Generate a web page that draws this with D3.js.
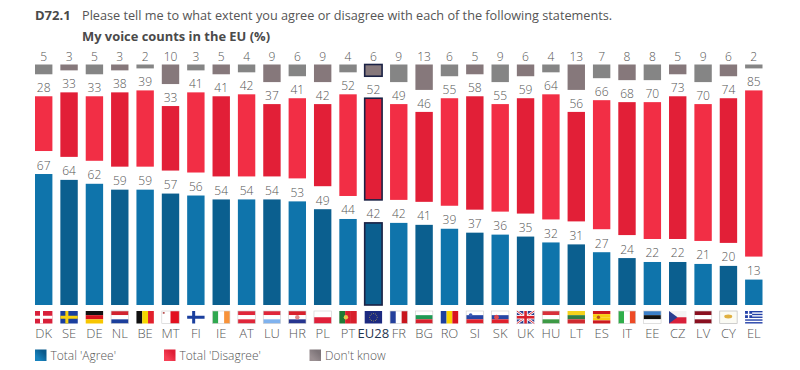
<!DOCTYPE html>
<html>
<head>
<meta charset="utf-8">
<script src="https://cdn.jsdelivr.net/npm/d3@7"></script>
<style>
  html, body { margin: 0; padding: 0; background: #fff; }
  svg { display: block; font-family: "Open Sans", "Noto Sans", sans-serif; }
  .val { font-size: 12px; font-weight: 300; fill: #555; text-anchor: middle; }
  .x-axis text { font-size: 13px; font-weight: 300; }
  .legend-label { font-size: 12px; font-weight: 300; fill: #555; }
</style>
</head>
<body>
<svg id="chart" width="800" height="370"></svg>
<script>
const countries = ['DK','SE','DE','NL','BE','MT','FI','IE','AT','LU','HR','PL','PT','EU28','FR','BG','RO','SI','SK','UK','HU','LT','ES','IT','EE','CZ','LV','CY','EL'];
const agree    = [67,64,62,59,59,57,56,54,54,54,53,49,44,42,42,41,39,37,36,35,32,31,27,24,22,22,21,20,13];
const disagree = [28,33,33,38,39,33,41,41,42,37,41,42,52,52,49,46,55,58,55,59,64,56,66,68,70,73,70,74,85];
const dontKnow = [5,3,5,3,2,10,3,5,4,9,6,9,4,6,9,13,6,5,9,6,4,13,7,8,8,5,9,6,2];

const legendItems = ["Total 'Agree'", "Total 'Disagree'", "Don't know"];

// h = horizontal stripes, v = vertical stripes
const stripeFlags = {
  DE: ['h', ['#111', '#d8121c', '#f7c600']],
  NL: ['h', ['#d2232f', '#fff', '#1c3f9c']],
  BE: ['v', ['#111', '#f6d800', '#e2202c']],
  MT: ['v', ['#fff', '#e2101f']],
  IE: ['v', ['#2fa84f', '#fff', '#f7923a']],
  AT: ['h', ['#e0263a', '#fff', '#e0263a']],
  LU: ['h', ['#e0263a', '#fff', '#7fb2ee']],
  HR: ['h', ['#d8202c', '#fff', '#26358f']],
  PL: ['h', ['#fff', '#e0203a']],
  PT: ['v', ['#1f7a35', '#d8202c', '#d8202c']],
  FR: ['v', ['#24409c', '#fff', '#c8161e']],
  BG: ['h', ['#fff', '#1f9a55', '#d8202c']],
  RO: ['v', ['#1d3f9e', '#fad400', '#d8141f']],
  SI: ['h', ['#fff', '#2545a5', '#e0202c']],
  SK: ['h', ['#fff', '#2545a5', '#e0202c']],
  HU: ['h', ['#d8303a', '#fff', '#3d9a45']],
  LT: ['h', ['#f5d21c', '#2f7d45', '#cf2a2f']],
  ES: ['h', ['#cc1a20', '#f9cf10', '#f9cf10', '#cc1a20']],
  IT: ['v', ['#2fae4a', '#fff', '#ee4a25']],
  EE: ['h', ['#3a7fc8', '#111', '#fff']],
  LV: ['h', ['#8a1020', '#fff', '#8a1020']]
};
const crossFlags = {
  DK: ['#d8203a', '#fff'],
  SE: ['#1a3f9e', '#f8d210'],
  FI: ['#fff', '#1a3f9e']
};

const colors = {
  agree: ['#0f74ab', '#0b5f8f'],
  disagree: ['#f22e45', '#e21f37'],
  dontKnow: ['#858585', '#86787b']
};

const svg = d3.select('#chart');

// Title
svg.append('text').attr('x', 35).attr('y', 20)
  .style('font-size', '13px').style('font-weight', 'bold').attr('fill', '#4a4a4a').text('D72.1');
svg.append('text').attr('x', 82).attr('y', 20)
  .style('font-size', '12.7px').attr('fill', '#555').text('Please tell me to what extent you agree or disagree with each of the following statements.');
svg.append('text').attr('x', 82).attr('y', 41)
  .style('font-size', '12.9px').style('font-weight', 'bold').attr('fill', '#4a4a4a').text('My voice counts in the EU  (%)');

const xScale = d3.scaleBand().domain(countries).range([35, 762.5]).paddingInner(0.314).paddingOuter(0);
const yScale = d3.scaleLinear().domain([0, 100]).range([305, 109.5]);

// gaps between the three blocks of the stack
const redGap = 23;
const grayTop = 64.5;
const unit = (yScale(0) - yScale(1));

const rows = countries.map((c, i) => ({ c, i, a: agree[i], d: disagree[i], k: dontKnow[i] }));
const barW = xScale.bandwidth();
const isEU = d => d.c === 'EU28';

function addBars(cls, yFn, hFn, palette) {
  svg.append('g').attr('class', cls).selectAll('rect')
    .data(rows)
    .join('rect')
      .attr('x', d => xScale(d.c))
      .attr('y', yFn)
      .attr('width', barW)
      .attr('height', hFn)
      .attr('fill', d => palette[d.i % 2])
      .attr('stroke', d => isEU(d) ? '#1b2245' : 'none')
      .attr('stroke-width', 1.6);
}

function addLabels(cls, yFn, valFn) {
  svg.append('g').attr('class', cls).selectAll('text')
    .data(rows)
    .join('text')
      .attr('class', 'val')
      .attr('x', d => xScale(d.c) + barW / 2)
      .attr('y', yFn)
      .text(valFn);
}

addBars('agree', d => yScale(d.a), d => yScale(0) - yScale(d.a), colors.agree);
addBars('disagree', d => yScale(d.a + d.d) - redGap, d => d.d * unit, colors.disagree);
addBars('dontknow', () => grayTop, d => d.k * unit, colors.dontKnow);

addLabels('agree-labels', d => yScale(d.a) - 4.5, d => d.a);
addLabels('disagree-labels', d => yScale(d.a + d.d) - redGap - 4, d => d.d);
addLabels('dontknow-labels', () => 60.5, d => d.k);

// Flags
const flagY = 311, flagH = 12.5;
const flagG = svg.append('g').attr('class', 'flags').selectAll('g')
  .data(countries)
  .join('g')
    .attr('transform', d => `translate(${xScale(d)},${flagY})`);

flagG.each(function(code) {
  const g = d3.select(this);
  const rect = (x, y, w, h, fill) => g.append('rect').attr('x', x).attr('y', y).attr('width', w).attr('height', h).attr('fill', fill);
  if (stripeFlags[code]) {
    const [dir, cols] = stripeFlags[code];
    const n = cols.length;
    cols.forEach((col, i) => {
      if (dir === 'h') rect(0, i * flagH / n, barW, flagH / n, col);
      else rect(i * barW / n, 0, barW / n, flagH, col);
    });
    if (cols.includes('#fff')) {
      g.append('rect').attr('width', barW).attr('height', flagH).attr('fill', 'none').attr('stroke', '#ccc').attr('stroke-width', 0.6);
    }
  } else if (crossFlags[code]) {
    const [bg, fg] = crossFlags[code];
    rect(0, 0, barW, flagH, bg);
    rect(5, 0, 3, flagH, fg);
    rect(0, flagH / 2 - 1.5, barW, 3, fg);
  }
  const circle = (cx, cy, r, fill) => g.append('circle').attr('cx', cx).attr('cy', cy).attr('r', r).attr('fill', fill);
  if (code === 'MT') rect(1, 1, 1.8, 1.8, '#b55');
  if (code === 'PT') circle(6.6, 6.2, 2.2, '#e8c84a');
  if (code === 'HR') circle(8.7, 6.2, 2.2, '#d88');
  if (code === 'SI') circle(4.5, 4, 1.8, '#3a5ab5');
  if (code === 'SK') circle(5, 6.2, 2.4, '#e04a50');
  if (code === 'ES') circle(5.5, 6.2, 1.7, '#b5541c');
  if (code === 'EU28') {
    rect(0, 0, barW, flagH, '#1c2a80');
    d3.range(12).forEach(i => {
      const a = i * Math.PI / 6;
      circle(barW / 2 + 3.8 * Math.cos(a), flagH / 2 + 3.8 * Math.sin(a), 0.45, '#e8d23c');
    });
  }
  if (code === 'CZ') {
    rect(0, 0, barW, flagH / 2, '#f4f4f4');
    rect(0, flagH / 2, barW, flagH / 2, '#d8203a');
    g.append('path').attr('d', `M0,0L8.5,${flagH / 2}L0,${flagH}Z`).attr('fill', '#2a3f90');
  }
  if (code === 'CY') {
    rect(0, 0, barW, flagH, '#fbfbf4');
    g.append('rect').attr('width', barW).attr('height', flagH).attr('fill', 'none').attr('stroke', '#bbb').attr('stroke-width', 0.7);
    g.append('ellipse').attr('cx', 8.5).attr('cy', 5.5).attr('rx', 4).attr('ry', 1.9).attr('fill', '#e0b040');
  }
  if (code === 'EL') {
    rect(0, 0, barW, flagH, '#fff');
    d3.range(0, 9, 2).forEach(i => rect(0, i * flagH / 9, barW, flagH / 9, '#2340a8'));
    rect(0, 0, 7, 7, '#2340a8');
    rect(2.8, 0, 1.4, 7, '#fff');
    rect(0, 2.8, 7, 1.4, '#fff');
  }
  if (code === 'UK') {
    rect(0, 0, barW, flagH, '#2a3a8c');
    const diag = (d, w, col) => g.append('path').attr('d', d).attr('stroke', col).attr('stroke-width', w);
    [`M0,0L${barW},${flagH}`, `M${barW},0L0,${flagH}`].forEach(d => { diag(d, 2.4, '#fff'); diag(d, 0.9, '#d8202c'); });
    rect(barW / 2 - 2.2, 0, 4.4, flagH, '#fff');
    rect(0, flagH / 2 - 2.2, barW, 4.4, '#fff');
    rect(barW / 2 - 1.3, 0, 2.6, flagH, '#d8202c');
    rect(0, flagH / 2 - 1.3, barW, 2.6, '#d8202c');
  }
});

// Country labels
const xAxis = d3.axisBottom(xScale).tickSize(0).tickPadding(0);
const xAxisG = svg.append('g')
  .attr('class', 'x-axis')
  .attr('transform', 'translate(0,328.5)')
  .call(xAxis);
xAxisG.select('.domain').remove();
xAxisG.selectAll('text')
  .style('font-family', '"Open Sans", "Noto Sans", sans-serif')
  .attr('fill', null)
  .style('font-weight', d => d === 'EU28' ? 400 : 300)
  .style('fill', d => d === 'EU28' ? '#1f3550' : '#555');

// Legend
const defs = svg.append('defs');
const legendColors = [['#0a5a8c', '#1782bd'], ['#df1e36', '#f64055'], ['#7d7478', '#9a8f92']];
legendColors.forEach((c, i) => {
  const grad = defs.append('linearGradient').attr('id', `leg${i}`)
    .attr('x1', 0).attr('y1', 1).attr('x2', 1).attr('y2', 0);
  grad.append('stop').attr('offset', '25%').attr('stop-color', c[1]);
  grad.append('stop').attr('offset', '75%').attr('stop-color', c[0]);
});
const legendX = d3.scaleOrdinal().domain(legendItems).range([35, 164, 309.5]);
const legend = svg.append('g').attr('class', 'legend').selectAll('g')
  .data(legendItems)
  .join('g')
    .attr('transform', d => `translate(${legendX(d)},349.5)`);
legend.append('rect').attr('width', 11.5).attr('height', 11.5)
  .attr('fill', (d, i) => `url(#leg${i})`);
legend.append('text').attr('class', 'legend-label').attr('x', 15.5).attr('y', 10).text(d => d);
</script>
</body>
</html>
